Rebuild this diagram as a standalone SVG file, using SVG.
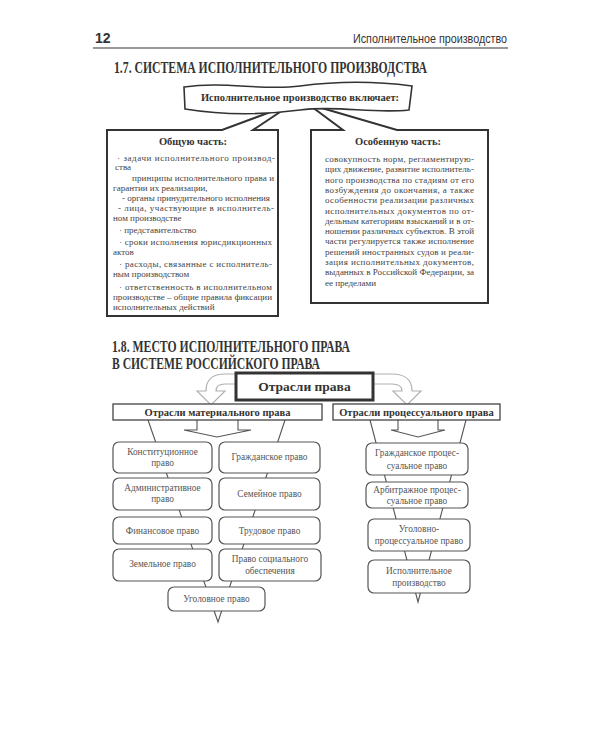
<svg xmlns="http://www.w3.org/2000/svg" width="600" height="750" viewBox="0 0 600 750">
<style>
.hdr{font-family:"Liberation Sans",Arial,sans-serif;fill:#333}
.ttl{font-family:"Liberation Serif","Times New Roman",serif;font-weight:bold;font-size:16px;fill:#333}
.b{font-family:"Liberation Serif","Times New Roman",serif;font-weight:bold;fill:#333;text-anchor:middle}
.t{font-family:"Liberation Serif","Times New Roman",serif;font-size:9px;fill:#444}
.bx{font-family:"Liberation Serif","Times New Roman",serif;font-size:9.3px;fill:#555;text-anchor:middle}
.frame{fill:#fff;stroke:#333;stroke-width:2}
.rbox{fill:#fff;stroke:#555;stroke-width:1.2}
.hbox{fill:#fff;stroke:#444;stroke-width:1.3}
.ln{fill:none;stroke:#555;stroke-width:1.1}
.harrow{fill:#fff;stroke:#b0b0b0;stroke-width:1.2}
</style>

<g id="page-header">
<text class="hdr" x="95" y="43" font-size="14" font-weight="bold">12</text>
<text class="hdr" x="507" y="43" font-size="12" text-anchor="end" textLength="154" lengthAdjust="spacingAndGlyphs">Исполнительное производство</text>
<line x1="93" y1="48" x2="508" y2="48" stroke="#333" stroke-width="1.2"/>
</g>

<text class="ttl" x="114" y="73" textLength="313" lengthAdjust="spacingAndGlyphs">1.7. СИСТЕМА ИСПОЛНИТЕЛЬНОГО ПРОИЗВОДСТВА</text>

<g id="callout-general">
<path class="frame" d="M107,130 H222 L292,104 L253,130 H278 V316 H107 Z"/>
<text class="b" x="193" y="145" font-size="10.5">Общую часть:</text>
<text class="t" x="117" y="161" textLength="158" lengthAdjust="spacing">· задачи исполнительного производ-</text>
<text class="t" x="115" y="170">ства</text>
<text class="t" x="132" y="181" textLength="142" lengthAdjust="spacing">принципы исполнительного права и</text>
<text class="t" x="113" y="191">гарантии их реализации,</text>
<text class="t" x="122" y="201" textLength="148" lengthAdjust="spacing">-  органы принудительного исполнения</text>
<text class="t" x="118" y="211" textLength="156" lengthAdjust="spacing">-  лица, участвующие в исполнитель-</text>
<text class="t" x="113" y="221">ном производстве</text>
<text class="t" x="119" y="233">·  представительство</text>
<text class="t" x="119" y="245" textLength="153" lengthAdjust="spacing">·  сроки исполнения юрисдикционных</text>
<text class="t" x="113" y="255">актов</text>
<text class="t" x="119" y="267" textLength="153" lengthAdjust="spacing">·  расходы, связанные с исполнитель-</text>
<text class="t" x="113" y="277">ным производством</text>
<text class="t" x="119" y="290" textLength="153" lengthAdjust="spacing">·  ответственность в исполнительном</text>
<text class="t" x="113" y="300" textLength="159" lengthAdjust="spacing">производстве – общие правила фиксации</text>
<text class="t" x="113" y="310">исполнительных действий</text>
</g>

<g id="callout-special">
<path class="frame" d="M311,130 H343 L308,104 L397,130 H488 V303 H311 Z"/>
<text class="b" x="398" y="145" font-size="10.5">Особенную часть:</text>
<text class="t" x="325" y="162" textLength="149" lengthAdjust="spacing">совокупность норм, регламентирую-</text>
<text class="t" x="325" y="172.3" textLength="149" lengthAdjust="spacing">щих движение, развитие исполнитель-</text>
<text class="t" x="325" y="182.6" textLength="149" lengthAdjust="spacing">ного производства по стадиям от его</text>
<text class="t" x="325" y="192.9" textLength="149" lengthAdjust="spacing">возбуждения до окончания, а также</text>
<text class="t" x="325" y="203.2" textLength="149" lengthAdjust="spacing">особенности реализации различных</text>
<text class="t" x="325" y="213.5" textLength="149" lengthAdjust="spacing">исполнительных документов по от-</text>
<text class="t" x="325" y="223.8" textLength="149" lengthAdjust="spacing">дельным категориям взысканий и в от-</text>
<text class="t" x="325" y="234.1" textLength="149" lengthAdjust="spacing">ношении различных субъектов. В этой</text>
<text class="t" x="325" y="244.4" textLength="149" lengthAdjust="spacing">части регулируется также исполнение</text>
<text class="t" x="325" y="254.7" textLength="149" lengthAdjust="spacing">решений иностранных судов и реали-</text>
<text class="t" x="325" y="265" textLength="149" lengthAdjust="spacing">зация исполнительных документов,</text>
<text class="t" x="325" y="275.3" textLength="149" lengthAdjust="spacing">выданных в Российской Федерации, за</text>
<text class="t" x="325" y="285.6">ее пределами</text>
</g>

<g id="banner">
<path d="M184,87 C225,81 262,91 300,86 S375,81 412,86 L409,110 C372,114 338,105 300,110 S222,115 185,109 Z" fill="#fff" stroke="#333" stroke-width="1.6"/>
<text class="b" x="300" y="101" font-size="10.5">Исполнительное производство включает:</text>
</g>

<text class="ttl" x="112" y="352" textLength="238" lengthAdjust="spacingAndGlyphs">1.8. МЕСТО ИСПОЛНИТЕЛЬНОГО ПРАВА</text>
<text class="ttl" x="112" y="369" textLength="208" lengthAdjust="spacingAndGlyphs">В СИСТЕМЕ РОССИЙСКОГО ПРАВА</text>

<g id="connectors">
<path class="harrow" d="M237,374 H225 C211,374 206,381 206,391 H197 L211,405 L225,391 H216 C216,386 219,384 225,384 H237 Z"/>
<path class="harrow" d="M373,374 H392 C406,374 412,381 412,391 H421 L407,405 L393,391 H402 C402,386 398,384 392,384 H373 Z"/>
<polyline class="ln" points="148,420 218,622 285,420"/>
<polyline class="ln" points="197,420 197,430 184,430 217,437 251,430 238,430 238,420"/>
<polyline class="ln" points="370,420 418,602 466,420"/>
<polyline class="ln" points="398,420 398,430 391,430 418,437 445,430 438,430 438,420"/>
</g>

<g id="root">
<rect x="236" y="373" width="137" height="27" fill="#fff" stroke="#333" stroke-width="3"/>
<text class="b" x="304.5" y="391" font-size="13.5">Отрасли права</text>
</g>

<g id="material">
<rect class="hbox" x="113" y="404" width="209" height="16"/>
<text class="b" x="217.5" y="415.5" font-size="10.5">Отрасли материального права</text>
</g>
<g id="procedural">
<rect class="hbox" x="333" y="404" width="167" height="16"/>
<text class="b" x="416.5" y="415.5" font-size="10.5">Отрасли процессуального права</text>
</g>

<g id="constitutional">
<rect class="rbox" x="113" y="442" width="99" height="31" rx="6"/>
<text class="bx" x="162.5" y="455">Конституционное</text>
<text class="bx" x="162.5" y="466">право</text>
</g>
<g id="civil">
<rect class="rbox" x="219" y="442" width="101" height="31" rx="6"/>
<text class="bx" x="269.5" y="460">Гражданское право</text>
</g>
<g id="administrative">
<rect class="rbox" x="113" y="478" width="99" height="32" rx="6"/>
<text class="bx" x="162.5" y="491">Административное</text>
<text class="bx" x="162.5" y="502">право</text>
</g>
<g id="family">
<rect class="rbox" x="219" y="478" width="101" height="32" rx="6"/>
<text class="bx" x="269.5" y="497">Семейное право</text>
</g>
<g id="financial">
<rect class="rbox" x="113" y="517" width="99" height="27" rx="6"/>
<text class="bx" x="162.5" y="534">Финансовое право</text>
</g>
<g id="labour">
<rect class="rbox" x="219" y="517" width="101" height="27" rx="6"/>
<text class="bx" x="269.5" y="534">Трудовое право</text>
</g>
<g id="land">
<rect class="rbox" x="113" y="549" width="99" height="32" rx="6"/>
<text class="bx" x="162.5" y="567">Земельное право</text>
</g>
<g id="social">
<rect class="rbox" x="219" y="549" width="102" height="32" rx="6"/>
<text class="bx" x="270" y="562">Право социального</text>
<text class="bx" x="270" y="574">обеспечения</text>
</g>
<g id="criminal">
<rect class="rbox" x="168" y="587" width="97" height="24" rx="6"/>
<text class="bx" x="216.5" y="602">Уголовное право</text>
</g>

<g id="civil-procedure">
<rect class="rbox" x="366" y="443" width="102" height="32" rx="6"/>
<text class="bx" x="417" y="456">Гражданское процес-</text>
<text class="bx" x="417" y="469">суальное право</text>
</g>
<g id="arbitration-procedure">
<rect class="rbox" x="366" y="482" width="102" height="26" rx="6"/>
<text class="bx" x="417" y="493">Арбитражное процес-</text>
<text class="bx" x="417" y="504">суальное право</text>
</g>
<g id="criminal-procedure">
<rect class="rbox" x="368" y="519" width="102" height="32" rx="6"/>
<text class="bx" x="419" y="532">Уголовно-</text>
<text class="bx" x="419" y="544">процессуальное право</text>
</g>
<g id="enforcement">
<rect class="rbox" x="368" y="560" width="102" height="33" rx="6"/>
<text class="bx" x="419" y="574">Исполнительное</text>
<text class="bx" x="419" y="586">производство</text>
</g>
</svg>
